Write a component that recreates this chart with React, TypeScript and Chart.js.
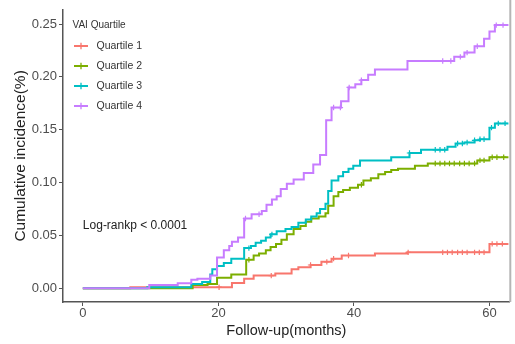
import React, { useEffect, useRef } from "react";
import { Chart, registerables } from "chart.js";
Chart.register(...registerables);

const seriesNames = ["Quartile 1", "Quartile 2", "Quartile 3", "Quartile 4"];
const seriesColors = ["#F8766D", "#7CAE00", "#00BFC4", "#C77CFF"];
const legendTitle = "VAI Quartile";
const annotationText = "Log-rankp < 0.0001";
const xTitle = "Follow-up(months)";
const yTitle = "Cumulative incidence(%)";
const xTicks = [0, 20, 40, 60];
const yTicks = [0, 0.05, 0.1, 0.15, 0.2, 0.25];

// Quartile 1 (step times in months, cumulative incidence)
const q1Times = [0, 7.0, 22.0, 23.8, 25.2, 28.4, 30.8, 31.8, 33.6, 35.2, 36.7, 38.2, 43.1, 47.9, 60.0, 62.8];
const q1Values = [0, 0.001, 0.005, 0.009, 0.012, 0.014, 0.018, 0.02, 0.022, 0.025, 0.028, 0.031, 0.033, 0.034, 0.042, 0.042];
const q1Censor = [20.1, 27.8, 33.6, 36.0, 37.0, 39.2, 48.0, 53.1, 53.8, 54.5, 55.3, 56.0, 56.7, 57.8, 58.5, 59.2, 60.4, 61.1, 61.9];

// Quartile 2
const q2Times = [0, 16.2, 18.4, 19.8, 21.9, 24.1, 25.2, 26.0, 27.0, 27.7, 28.5, 29.3, 30.1, 31.1, 32.1, 32.9, 33.7, 34.8, 35.8, 36.2, 37.0, 37.7, 38.4, 39.4, 40.6, 41.4, 42.5, 43.6, 44.6, 45.5, 46.5, 49.0, 50.9, 58.2, 60.0, 62.8];
const q2Values = [0, 0.003, 0.004, 0.01, 0.013, 0.027, 0.031, 0.033, 0.036, 0.039, 0.042, 0.046, 0.051, 0.056, 0.059, 0.063, 0.066, 0.068, 0.071, 0.078, 0.087, 0.091, 0.093, 0.095, 0.098, 0.102, 0.104, 0.108, 0.11, 0.112, 0.113, 0.116, 0.118, 0.121, 0.124, 0.124];
const q2Censor = [24.5, 41.1, 52.0, 52.7, 53.4, 54.1, 54.8, 55.6, 56.3, 57.0, 57.8, 58.6, 59.2, 60.4, 61.1, 62.1];

// Quartile 3
const q3Times = [0, 9.5, 16.0, 17.6, 18.8, 19.1, 19.8, 20.8, 21.9, 23.8, 24.8, 25.5, 26.3, 27.0, 27.7, 28.6, 29.9, 30.8, 31.8, 32.9, 33.7, 34.5, 35.0, 35.8, 36.2, 36.7, 37.7, 38.4, 39.2, 39.9, 40.9, 45.5, 48.2, 49.9, 53.8, 55.0, 56.3, 57.8, 58.6, 60.0, 60.8, 62.8];
const q3Values = [0, 0.001, 0.004, 0.006, 0.013, 0.018, 0.021, 0.024, 0.028, 0.038, 0.04, 0.043, 0.045, 0.048, 0.051, 0.054, 0.056, 0.058, 0.062, 0.065, 0.068, 0.071, 0.075, 0.08, 0.092, 0.102, 0.106, 0.11, 0.113, 0.116, 0.121, 0.124, 0.128, 0.131, 0.134, 0.137, 0.138, 0.14, 0.141, 0.152, 0.156, 0.156];
const q3Censor = [24.5, 27.9, 48.2, 52.0, 52.7, 53.4, 55.3, 56.0, 56.7, 57.8, 58.6, 59.2, 60.3, 61.3, 62.3];

// Quartile 4
const q4Times = [0, 9.8, 14.0, 16.0, 16.9, 18.8, 19.8, 20.8, 21.6, 22.0, 22.9, 23.8, 24.9, 26.4, 27.1, 27.9, 28.6, 29.2, 30.1, 31.1, 32.6, 34.0, 35.0, 35.9, 36.7, 38.1, 39.2, 40.2, 41.1, 42.1, 43.1, 47.9, 54.8, 56.3, 57.8, 59.2, 60.0, 60.8, 62.8];
const q4Values = [0, 0.003, 0.0047, 0.008, 0.009, 0.012, 0.029, 0.036, 0.04, 0.044, 0.048, 0.066, 0.07, 0.073, 0.079, 0.084, 0.087, 0.094, 0.099, 0.103, 0.109, 0.117, 0.126, 0.159, 0.171, 0.177, 0.19, 0.193, 0.197, 0.202, 0.207, 0.215, 0.219, 0.223, 0.229, 0.236, 0.243, 0.249, 0.249];
const q4Censor = [24.0, 26.0, 37.0, 38.0, 39.3, 41.1, 53.1, 54.3, 55.7, 56.7, 58.2, 61.0, 62.0];

const allTimes = [q1Times, q2Times, q3Times, q4Times];
const allValues = [q1Values, q2Values, q3Values, q4Values];
const allCensor = [q1Censor, q2Censor, q3Censor, q4Censor];

const FONT = "'Liberation Sans', Arial, sans-serif";

function stepAt(times: number[], values: number[], t: number) {
  let v = values[0];
  for (let i = 0; i < times.length; i++) {
    if (times[i] <= t) v = values[i];
  }
  return v;
}

export default function App() {
  const ref = useRef<HTMLCanvasElement | null>(null);
  useEffect(() => {
    if (!ref.current) return;
    const datasets: any[] = [];
    seriesNames.forEach((name, i) => {
      datasets.push({
        label: name,
        data: allTimes[i].map((t, j) => ({ x: t, y: allValues[i][j] })),
        borderColor: seriesColors[i],
        backgroundColor: seriesColors[i],
        borderWidth: 2,
        stepped: "before",
        pointRadius: 0,
        fill: false,
        order: 10 - i * 2,
      });
      datasets.push({
        label: name + " censored",
        data: allCensor[i].map((t) => ({ x: t, y: stepAt(allTimes[i], allValues[i], t) })),
        showLine: false,
        pointStyle: "cross",
        pointRadius: 2.7,
        pointBorderWidth: 1.2,
        pointBorderColor: seriesColors[i],
        borderColor: seriesColors[i],
        order: 9 - i * 2,
      });
    });

    const overlay = {
      id: "overlay",
      afterDraw(chart: any) {
        const ctx = chart.ctx;
        const xs = chart.scales.x;
        const ys = chart.scales.y;
        ctx.save();
        ctx.strokeStyle = "#b5b5b5";
        ctx.lineWidth = 2;
        ctx.beginPath();
        ctx.moveTo(chart.chartArea.right + 0.5, 0);
        ctx.lineTo(chart.chartArea.right + 0.5, chart.chartArea.bottom);
        ctx.stroke();
        ctx.fillStyle = "#222";
        ctx.font = `12px ${FONT}`;
        ctx.textAlign = "left";
        ctx.textBaseline = "middle";
        ctx.fillText(annotationText, xs.getPixelForValue(0), ys.getPixelForValue(0.059));
        ctx.fillStyle = "#333";
        ctx.font = `10px ${FONT}`;
        ctx.fillText(legendTitle, 72.5, 25);
        seriesNames.forEach((name, i) => {
          const y = 46 + i * 20;
          ctx.strokeStyle = seriesColors[i];
          ctx.lineWidth = 2;
          ctx.beginPath();
          ctx.moveTo(74, y);
          ctx.lineTo(88, y);
          ctx.stroke();
          ctx.lineWidth = 1.3;
          ctx.beginPath();
          ctx.moveTo(81, y - 3.2);
          ctx.lineTo(81, y + 3.2);
          ctx.stroke();
          ctx.fillStyle = "#333";
          ctx.font = `10.5px ${FONT}`;
          ctx.fillText(name, 96.5, y);
        });
        ctx.restore();
      },
    };

    const chart = new Chart(ref.current, {
      type: "line",
      data: { datasets },
      options: {
        animation: false,
        responsive: false,
        devicePixelRatio: 1,
        layout: { padding: { top: 7, right: 2, left: 0, bottom: 0 } },
        plugins: { legend: { display: false }, tooltip: { enabled: false } },
        scales: {
          x: {
            type: "linear",
            min: -2.93,
            max: 63.0,
            afterFit: (s: any) => { s.height = 42; },
            afterBuildTicks: (s: any) => { s.ticks = xTicks.map((v) => ({ value: v })); },
            grid: { display: true, drawOnChartArea: false, drawTicks: true, tickLength: 4, color: "#555", lineWidth: 1 },
            border: { display: true, color: "#555", width: 1.5 },
            ticks: { color: "#4d4d4d", font: { family: FONT, size: 13 }, padding: 0, maxRotation: 0, callback: (v: any) => String(v) },
            title: { display: true, text: xTitle, color: "#222", font: { family: FONT, size: 14.5 }, padding: { top: 0, bottom: 4 } },
          },
          y: {
            type: "linear",
            min: -0.013,
            max: 0.2635,
            afterFit: (s: any) => { s.width = 63; },
            afterBuildTicks: (s: any) => { s.ticks = yTicks.map((v) => ({ value: v })); },
            grid: { display: true, drawOnChartArea: false, drawTicks: true, tickLength: 4, color: "#555", lineWidth: 1 },
            border: { display: true, color: "#555", width: 1.5 },
            ticks: { color: "#4d4d4d", font: { family: FONT, size: 13 }, padding: 2, callback: (v: any) => Number(v).toFixed(2) },
            title: { display: true, text: yTitle, color: "#222", font: { family: FONT, size: 15.5 }, padding: { top: 11.5, bottom: 0 } },
          },
        },
      },
      plugins: [overlay],
    } as any);
    return () => chart.destroy();
  }, []);
  return (
    <div style={{ position: "absolute", left: 0, top: 0, width: 515, height: 344, background: "#fff" }}>
      <canvas ref={ref} width={515} height={344} style={{ width: 515, height: 344, display: "block" }} />
    </div>
  );
}
